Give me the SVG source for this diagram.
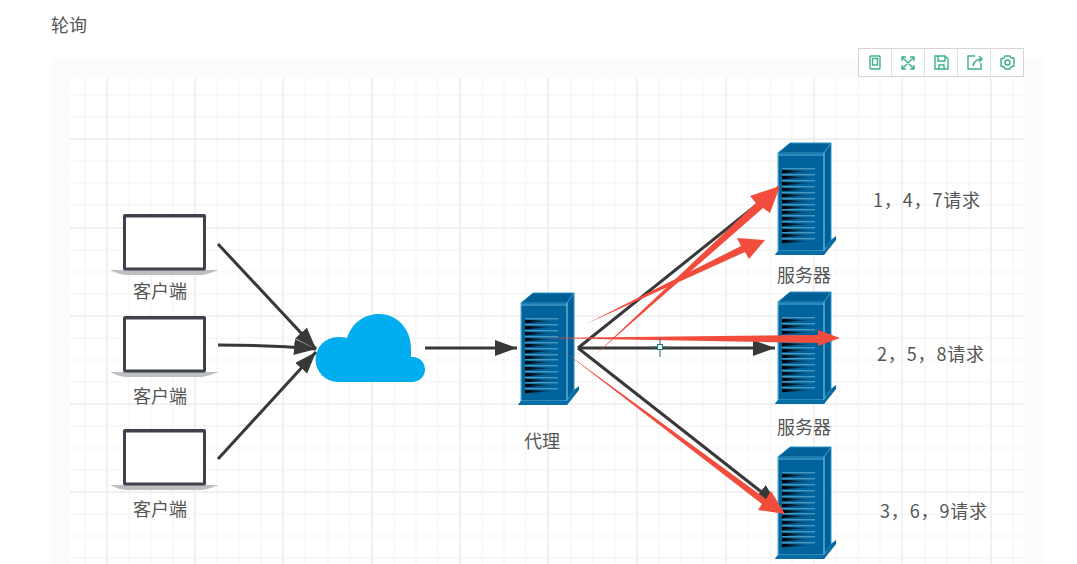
<svg xmlns="http://www.w3.org/2000/svg" width="1077" height="564" viewBox="0 0 1077 564">
<style>
text{font-family:"Noto Sans CJK SC","Noto Sans",sans-serif;font-size:18px;fill:#555}
.c{text-anchor:middle}
.t{letter-spacing:.85px}
.m{stroke:#ebebeb;stroke-width:1.5;fill:none}
.n{stroke:#f3f3f3;stroke-width:1;fill:none}
.b{stroke:#383838;stroke-width:3;fill:none;marker-end:url(#ah)}
.r{fill:#f24c3d}
.i{fill:none;stroke:#3dae8e;stroke-width:1.4}
</style>
<defs>
<marker id="ah" markerUnits="userSpaceOnUse" markerWidth="26" markerHeight="18" refX="22" refY="8" orient="auto"><path d="M0 0L22 8L0 16Z" fill="#383838"/></marker>
<linearGradient id="w" x1="0" x2="1" y1="0" y2="0"><stop offset="0" stop-color="#000"/><stop offset=".5" stop-color="#062c44"/><stop offset="1" stop-color="#00639b"/></linearGradient>
<g id="slot"><path d="M7 .7L36 2.300L7 4.300Z" fill="url(#w)"/><path d="M7 -.2H40" stroke="#6fb8d8" stroke-width=".9"/></g>
<symbol id="server" width="62" height="114" viewBox="0 0 62 114" overflow="visible">
<path d="M3 10L15 0H56V97L61 93V97L49 112H0L3 108Z" fill="#00639b"/>
<path d="M3 10L15 0H56L49 10ZM49 10L56 0V97L49 107Z" fill="#005f96" stroke="#2f93c4" stroke-width="1"/>
<path d="M3 12H49M3 10V108H49V10M49 108L56 100" fill="none" stroke="#5fb4dc" stroke-width="1.200"/>
<path d="M0 112L3 108H49L56 97L60 95L49 112Z" fill="#0a6ea6"/>
<use href="#slot" y="26"/><use href="#slot" y="32"/><use href="#slot" y="38"/><use href="#slot" y="44"/><use href="#slot" y="50"/><use href="#slot" y="56"/><use href="#slot" y="62"/><use href="#slot" y="67"/><use href="#slot" y="73"/><use href="#slot" y="79"/><use href="#slot" y="85"/><use href="#slot" y="90"/><use href="#slot" y="96"/>
</symbol>
<symbol id="laptop" width="110" height="62" viewBox="0 0 110 62">
<path d="M0 56H109C100 59 95 61 90 61H18C12 61 6 59 0 56Z" fill="#bcbec2"/>
<rect x="13" y="0" width="83" height="56.500" rx="2" fill="#3f414d"/>
<rect x="16" y="3.500" width="77" height="50" fill="#fff"/>
</symbol>
</defs>
<rect width="1077" height="564" fill="#fff"/>
<rect x="51" y="58" width="992" height="506" fill="#fbfbfb"/>
<rect x="70" y="78" width="953" height="486" fill="#fff"/>
<g id="grid">
<path class="n" d="M70 95H1023M70 117H1023M70 161H1023M70 183H1023M70 205H1023M70 250H1023M70 272H1023M70 294H1023M70 338H1023M70 360H1023M70 382H1023M70 426H1023M70 448H1023M70 470H1023M70 514H1023M70 536H1023M70 558H1023"/>
<path class="n" d="M85 78V564M129 78V564M151 78V564M173 78V564M217 78V564M239 78V564M261 78V564M305 78V564M328 78V564M350 78V564M394 78V564M416 78V564M438 78V564M482 78V564M504 78V564M526 78V564M571 78V564M593 78V564M615 78V564M659 78V564M681 78V564M703 78V564M748 78V564M770 78V564M792 78V564M836 78V564M858 78V564M880 78V564M925 78V564M947 78V564M969 78V564M1013 78V564"/>
<path class="m" d="M70 139H1023M70 228H1023M70 316H1023M70 404H1023M70 492H1023"/>
<path class="m" d="M107 78V564M195 78V564M283 78V564M372 78V564M460 78V564M548 78V564M637 78V564M726 78V564M814 78V564M902 78V564M991 78V564"/>
</g>
<text x="51" y="32">轮询</text>
<g id="toolbar">
<rect x="858.500" y="48.500" width="165" height="28" fill="#fff" stroke="#d5d5d5"/>
<path d="M891.500 48.500V76.500M924.500 48.500V76.500M957.500 48.500V76.500M990.500 48.500V76.500" stroke="#e0e0e0" fill="none"/>
<g class="i"><rect x="870" y="56" width="10" height="13" rx="1"/><rect x="872.500" y="58.500" width="5" height="6.500"/></g>
<path class="i" d="M902 57L914 69M914 57L902 69M902 61V57H906M910 57H914V61M902 65V69H906M910 69H914V65"/>
<path class="i" d="M935 56H945L948 59V69H935ZM938 56V61H945V56M939 69V65H944V69"/>
<path class="i" d="M975 56H968V69H981V63M973 66C974 61 977 59 982 59M979 56L982 59L979 62"/>
<g class="i"><circle cx="1007.500" cy="62.500" r="2.500"/><path d="M1005 56L1010 56L1011 58L1014 58L1014 62L1014 66L1011 67L1010 69H1005L1004 67L1001 66V59L1004 58Z" stroke-linejoin="round"/></g>
</g>
<g id="client-1"><use href="#laptop" x="110" y="214"/><text class="c" x="160" y="298">客户端</text></g>
<g id="client-2"><use href="#laptop" x="110" y="316"/><text class="c" x="160" y="403">客户端</text></g>
<g id="client-3"><use href="#laptop" x="110" y="429"/><text class="c" x="160" y="516">客户端</text></g>
<g id="cloud"><path d="M338 382A22.500 22.500 0 0 1 338 337C340 337 344 337 347 338C352 323 364 314 379 314C398 314 411 330 411 348V357C419 356 425 362 425 369.500C425 377 419 382 412 382Z" fill="#00adef"/></g>
<g id="proxy"><use href="#server" x="518" y="293"/><text class="c" x="542" y="448">代理</text></g>
<g id="server-1"><use href="#server" x="775" y="143"/><text class="c" x="804" y="282">服务器</text></g>
<g id="server-2"><use href="#server" x="775" y="292"/><text class="c" x="804" y="434">服务器</text></g>
<g id="server-3"><use href="#server" x="775" y="447"/></g>
<g id="labels">
<text class="t" x="873" y="207">1，4，7请求</text>
<text class="t" x="877" y="361">2，5，8请求</text>
<text class="t" x="880" y="518">3，6，9请求</text>
</g>
<g id="connectors">
<path class="b" d="M218 244L316 349"/>
<path class="b" d="M218 345Q270 345 316 349"/>
<path class="b" d="M218 459L316 352"/>
<path class="b" d="M425 348H517"/>
<path class="b" d="M578 348L779 187"/>
<path class="b" d="M578 348H775"/>
<path class="b" d="M578 348L778 505"/>
<path class="r" d="M586 324L741 246L737 238L765 240L749 259L745 252Z"/>
<path class="r" d="M595 355L756 203L750 196L780 186L770 213L763 208Z"/>
<path class="r" d="M540 338L818 335V330L840 338L818 346V343Z"/>
<path class="r" d="M562 350L766 499L771 491L785 514L758 510L762 504Z"/>
</g>
<g id="cursor" stroke="#2f6f6f" fill="none"><path d="M660 338V344M660 350V357M650 347H657M663 347H670"/><rect x="657.500" y="344.500" width="5" height="5" fill="#dff"/></g>
</svg>
